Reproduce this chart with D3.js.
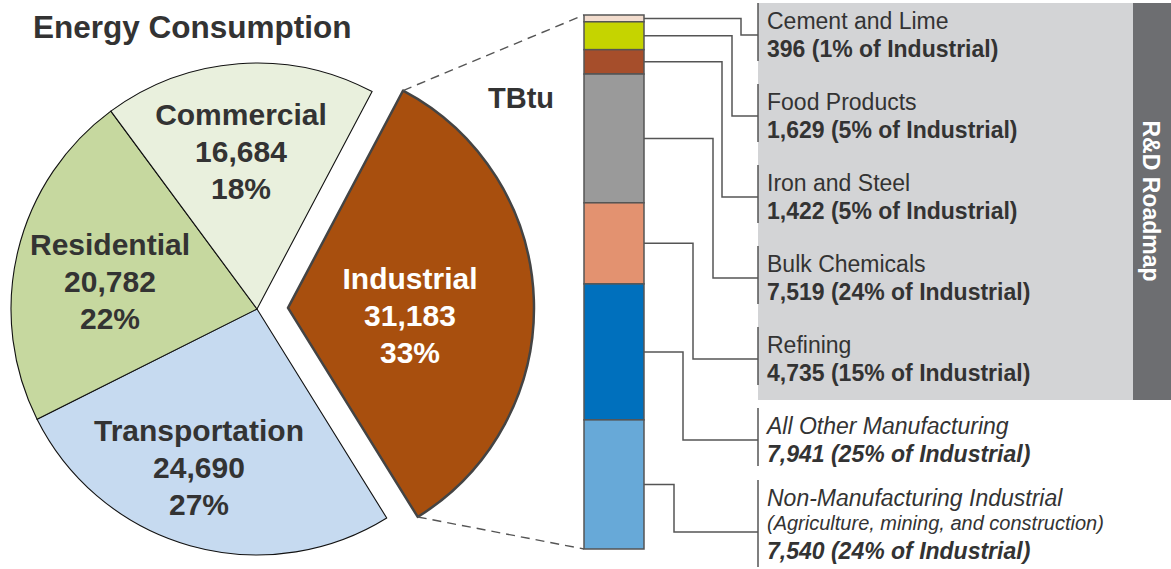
<!DOCTYPE html>
<html><head><meta charset="utf-8">
<script src="https://cdn.jsdelivr.net/npm/d3@7"></script>
<style>body{margin:0;background:#fff;} svg text{font-family:"Liberation Sans",Arial,Helvetica,sans-serif;}</style>
</head><body><svg id="c" width="1171" height="569"></svg>
<script>
// ---- data ----
const sectors = ["Industrial", "Transportation", "Residential", "Commercial"];
const sectorValues = [31183, 24690, 20782, 16684];
const sectorPercents = ["33%", "27%", "22%", "18%"];
const subsectors = ["Cement and Lime", "Food Products", "Iron and Steel", "Bulk Chemicals", "Refining", "All Other Manufacturing", "Non-Manufacturing Industrial"];
const subsectorValues = [396, 1629, 1422, 7519, 4735, 7941, 7540];
const subsectorPercents = ["1%", "5%", "5%", "24%", "15%", "25%", "24%"];
const subsectorNotes = ["", "", "", "", "", "", "(Agriculture, mining, and construction)"];
const titleText = "Energy Consumption";
const unitText = "TBtu";
const roadmapText = "R&D Roadmap";

// ---- styles / layout ----
const sectorColors = ["#a84f0e", "#c6daf0", "#c6d89f", "#e9f0dd"];
const subColors = ["#f2dccd", "#c5d400", "#a64e2b", "#9a9a9a", "#e39270", "#0070bd", "#67a9d8"];
const sectorLabelPos = [[410, 289], [199, 441], [110, 255], [241, 125]];
const elbowX = [741, 732, 722, 713, 693, 683, 674];
const fmt = d3.format(",");
const svg = d3.select("#c");
const ink = "#333";

// title
svg.append("text").attr("x", 33).attr("y", 38).attr("font-size", 31.5).attr("font-weight", "bold")
  .attr("fill", ink).text(titleText);

// ---- pie ----
const cx = 257, cy = 309, R = 246, explode = 31;
const a0 = 27.9 * Math.PI / 180;
const pie = d3.pie().sort(null).startAngle(a0).endAngle(a0 + 2 * Math.PI);
const arcs = pie(sectorValues);
const arc = d3.arc().innerRadius(0).outerRadius(R);
const offsets = arcs.map((d, i) => {
  if (i !== 0) return [0, 0];
  const m = (d.startAngle + d.endAngle) / 2;
  return [explode * Math.sin(m), -explode * Math.cos(m)];
});
const order = [1, 2, 3, 0];
const g = svg.append("g").attr("transform", `translate(${cx},${cy})`);
order.forEach(i => {
  const d = arcs[i];
  g.append("path").attr("d", arc(d))
    .attr("transform", `translate(${offsets[i][0]},${offsets[i][1]})`)
    .attr("fill", sectorColors[i])
    .attr("stroke", i === 0 ? "#444" : "#111")
    .attr("stroke-width", i === 0 ? 2.5 : 1.1)
    .attr("stroke-linejoin", "round");
});
// sector labels
sectors.forEach((s, i) => {
  const [lx, ly] = sectorLabelPos[i];
  const t = svg.append("text").attr("text-anchor", "middle").attr("font-size", 30)
    .attr("font-weight", "bold").attr("fill", i === 0 ? "#fff" : ink);
  [s, fmt(sectorValues[i]), sectorPercents[i]].forEach((line, k) => {
    t.append("tspan").attr("x", lx).attr("y", ly + k * 36.8).text(line);
  });
});

// ---- stacked bar ----
const barX = 584, barW = 60, barTop = 15, barBot = 549;
const total = d3.sum(subsectorValues);
const y = d3.scaleLinear().domain([0, total]).range([barTop, barBot]);
const cum = d3.cumsum(subsectorValues);
const segs = subsectorValues.map((v, i) => ({ v, y0: cum[i] - v, y1: cum[i], i }));

// dashed connectors from industrial slice to bar
const ind = arcs[0];
const ip = ang => [cx + offsets[0][0] + R * Math.sin(ang), cy + offsets[0][1] - R * Math.cos(ang)];
const pTop = ip(ind.startAngle), pBot = ip(ind.endAngle);
[[pTop, [barX, y(0)]], [pBot, [barX, y(total)]]].forEach(([p, q]) => {
  svg.append("line").attr("x1", p[0]).attr("y1", p[1]).attr("x2", q[0]).attr("y2", q[1])
    .attr("stroke", "#555").attr("stroke-width", 1.4).attr("stroke-dasharray", "9,6");
});

svg.append("text").attr("x", 488).attr("y", 108).attr("font-size", 29).attr("font-weight", "bold")
  .attr("fill", ink).text(unitText);

// gray panel + roadmap band
svg.append("rect").attr("x", 758).attr("y", 3).attr("width", 375).attr("height", 397).attr("fill", "#d3d4d6");
svg.append("rect").attr("x", 1133).attr("y", 3).attr("width", 38).attr("height", 397).attr("fill", "#6d6e71");
svg.append("text").attr("transform", "translate(1151,201) rotate(90)").attr("text-anchor", "middle")
  .attr("dominant-baseline", "central").attr("font-size", 23).attr("font-weight", "bold")
  .attr("fill", "#fff").text(roadmapText);

// connectors & labels
segs.forEach(s => {
  const i = s.i;
  const last = i === subsectors.length - 1;
  const base = last ? 506 : 29 + 81 * i;
  const top = base - 26;
  const bottom = last ? 567 : top + 58;
  const ty = last ? 532 : top + 32;
  const sy = y((s.y0 + s.y1) / 2);
  svg.append("path").attr("d", `M${barX + barW},${sy}H${elbowX[i]}V${ty}H758`)
    .attr("fill", "none").attr("stroke", "#555").attr("stroke-width", 1.5);
  svg.append("line").attr("x1", 758).attr("x2", 758).attr("y1", top).attr("y2", bottom)
    .attr("stroke", "#555").attr("stroke-width", 1.5);
  const italic = i >= 5 ? "italic" : "normal";
  svg.append("text").attr("x", 767).attr("y", base).attr("font-size", 23).attr("font-style", italic)
    .attr("fill", ink).text(subsectors[i]);
  let vy = base + 28;
  if (subsectorNotes[i]) {
    svg.append("text").attr("x", 767).attr("y", base + 24).attr("font-size", 20).attr("font-style", italic)
      .attr("fill", ink).text(subsectorNotes[i]);
    vy = base + 53;
  }
  svg.append("text").attr("x", 767).attr("y", vy).attr("font-size", 23).attr("font-weight", "bold")
    .attr("font-style", italic).attr("fill", ink)
    .text(`${fmt(s.v)} (${subsectorPercents[i]} of Industrial)`);
});

// bar segments
svg.append("g").selectAll("rect").data(segs).join("rect")
  .attr("x", barX).attr("width", barW)
  .attr("y", d => y(d.y0)).attr("height", d => y(d.y1) - y(d.y0))
  .attr("fill", d => subColors[d.i]).attr("stroke", "#555").attr("stroke-width", 1.5);
</script></body></html>
